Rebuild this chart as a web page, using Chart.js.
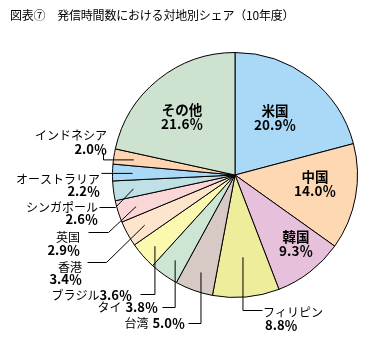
<!DOCTYPE html>
<html lang="ja">
  <head>
    <meta charset="UTF-8" />
    <title>対地別シェア</title>
    <style>
      body { margin: 0; background: #fff; }
    </style>
  </head>
  <body>
    <canvas id="pie" width="367" height="337"></canvas>
    <script src="https://cdn.jsdelivr.net/npm/chart.js"></script>
    <script>
      const chartTitle = '図表⑦　発信時間数における対地別シェア（10年度）';
      const categories = ['米国', '中国', '韓国', 'フィリピン', '台湾', 'タイ', 'ブラジル', '香港', '英国', 'シンガポール', 'オーストラリア', 'インドネシア', 'その他'];
      const shares = [20.9, 14.0, 9.3, 8.8, 5.0, 3.8, 3.6, 3.4, 2.9, 2.6, 2.2, 2.0, 21.6];
      const sliceColors = ['#a9d9f6', '#fdd8b2', '#e7c0dc', '#eded9b', '#d7c9c3', '#cde6d3', '#fbf8b0', '#fde4cc', '#fbd6d6', '#bfe1e6', '#a9d9f6', '#fdd5b3', '#cde3d0'];

      // where each label sits; null in a path point means "take the slice anchor's value"
      const labelLayout = [
        { kind: 'inside', x: 275, y: 111 },
        { kind: 'inside', x: 315, y: 177 },
        { kind: 'inside', x: 296, y: 237 },
        { kind: 'left', x: 263, nameY: 312, pctX: 265, pctY: 325, f: 0.67, path: [[262, 310], [null, 310]] },
        { kind: 'row', x: 185, y: 323, gap: 4, f: 0.84, path: [[188, 323], [null, 323]] },
        { kind: 'row', x: 158, y: 307, gap: 4, f: 0.85, path: [[162, 307], [null, 307]] },
        { kind: 'row', x: 132, y: 295, gap: 0, f: 0.875, path: [[140, 294], [null, 294]] },
        { kind: 'right', x: 82, nameY: 267, pctY: 279, f: 0.845, path: [[87, 262], [106, 262]] },
        { kind: 'right', x: 80, nameY: 237, pctY: 250, f: 0.85, path: [[88, 232], [108, 232]] },
        { kind: 'right', x: 98, nameY: 207, pctY: 219, f: 0.84, path: [[99, 207], [115, 207]] },
        { kind: 'right', x: 100, nameY: 179, pctY: 191, f: 0.84, path: [[101, null]] },
        { kind: 'right', x: 107, nameY: 135, pctY: 149, f: 0.84, path: [[103, 153], [103, null]] },
        { kind: 'inside', x: 182, y: 110 }
      ];

      const fontFamily = '"Noto Sans CJK JP", "Noto Sans", sans-serif';
      const nameFont = '12px ' + fontFamily;
      const pctFont = 'bold 13px ' + fontFamily;
      const innerFont = 'bold 13.5px ' + fontFamily;

      function pctText(v) {
        return v.toFixed(1) + '％';
      }

      const calloutPlugin = {
        id: 'callouts',
        afterDraw(chart) {
          const ctx = chart.ctx;
          const arcs = chart.getDatasetMeta(0).data;
          ctx.save();
          ctx.fillStyle = '#000';
          ctx.textBaseline = 'middle';

          ctx.font = '12px ' + fontFamily;
          ctx.letterSpacing = '-0.2px';
          ctx.textAlign = 'left';
          ctx.fillText(chartTitle, 10, 15);
          ctx.letterSpacing = '0px';

          arcs.forEach(function (arc, i) {
            const lay = labelLayout[i];
            const name = categories[i];
            const pct = pctText(shares[i]);

            if (lay.kind === 'inside') {
              ctx.font = innerFont;
              ctx.textAlign = 'center';
              ctx.fillText(name, lay.x, lay.y);
              ctx.fillText(pct, lay.x, lay.y + 14);
              return;
            }

            const mid = (arc.startAngle + arc.endAngle) / 2;
            const ax = arc.x + Math.cos(mid) * arc.outerRadius * lay.f;
            const ay = arc.y + Math.sin(mid) * arc.outerRadius * lay.f;
            ctx.strokeStyle = '#000';
            ctx.lineWidth = 1;
            ctx.beginPath();
            lay.path.forEach(function (p, k) {
              const px = (p[0] === null ? ax : p[0]) + 0.5;
              const py = (p[1] === null ? ay : p[1]) + 0.5;
              if (k === 0) ctx.moveTo(px, py);
              else ctx.lineTo(px, py);
            });
            ctx.lineTo(ax + 0.5, ay + 0.5);
            ctx.stroke();

            if (lay.kind === 'row') {
              ctx.textAlign = 'right';
              ctx.font = pctFont;
              ctx.fillText(pct, lay.x, lay.y);
              const w = ctx.measureText(pct).width;
              ctx.font = nameFont;
              ctx.fillText(name, lay.x - w - lay.gap, lay.y);
            } else if (lay.kind === 'right') {
              ctx.textAlign = 'right';
              ctx.font = nameFont;
              ctx.fillText(name, lay.x, lay.nameY);
              ctx.font = pctFont;
              ctx.fillText(pct, lay.x, lay.pctY);
            } else {
              ctx.textAlign = 'left';
              ctx.font = nameFont;
              ctx.fillText(name, lay.x, lay.nameY);
              ctx.font = pctFont;
              ctx.fillText(pct, lay.pctX, lay.pctY);
            }
          });
          ctx.restore();
        }
      };

      const data = {
        labels: categories,
        datasets: [
          {
            data: shares,
            backgroundColor: sliceColors,
            borderColor: '#000',
            borderWidth: 1
          }
        ]
      };

      const config = {
        type: 'pie',
        data: data,
        options: {
          responsive: false,
          animation: false,
          events: [],
          layout: { padding: { left: 112, right: 9, top: 52, bottom: 39 } },
          plugins: {
            legend: { display: false },
            tooltip: { enabled: false }
          }
        },
        plugins: [calloutPlugin]
      };

      const myChart = new Chart(document.getElementById('pie'), config);
    </script>
  </body>
</html>
